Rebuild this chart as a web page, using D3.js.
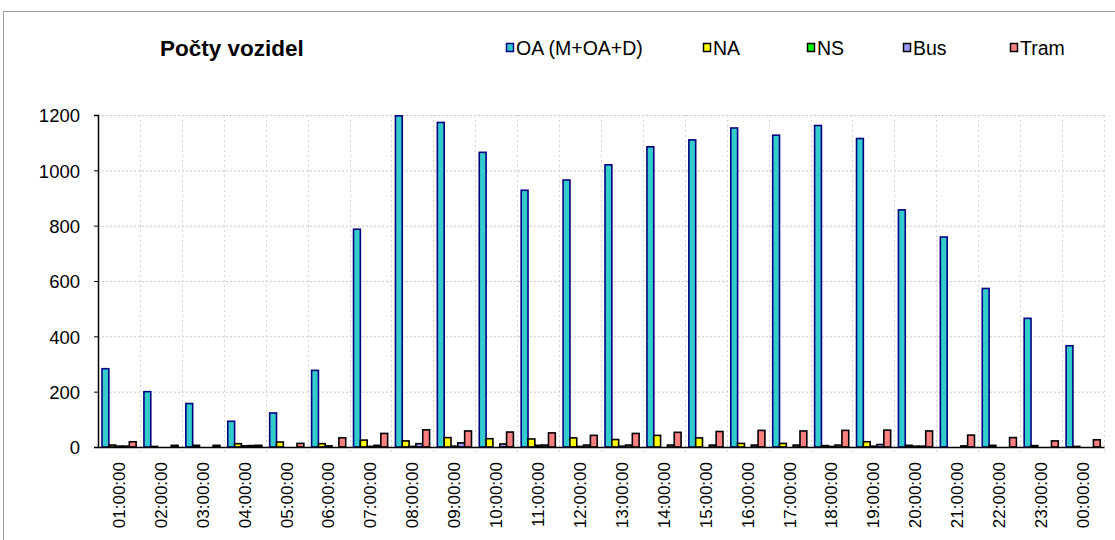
<!DOCTYPE html>
<html lang="cs">
<head>
<meta charset="UTF-8">
<script src="https://d3js.org/d3.v7.min.js"></script>
<style>
  body { margin: 0; background: #fff; }
  text { font-family: Arial, "Liberation Sans", sans-serif; fill: #000; }
</style>
</head>
<body>
<script>
// data
const hours = ["01:00:00","02:00:00","03:00:00","04:00:00","05:00:00","06:00:00","07:00:00","08:00:00",
  "09:00:00","10:00:00","11:00:00","12:00:00","13:00:00","14:00:00","15:00:00","16:00:00",
  "17:00:00","18:00:00","19:00:00","20:00:00","21:00:00","22:00:00","23:00:00","00:00:00"];
const oa   = [283, 200, 157, 93, 123, 277, 787, 1197, 1173, 1065, 928, 965, 1020, 1085, 1110, 1153, 1127, 1162, 1115, 857, 759, 573, 465, 366];
const na   = [7, 2, 6, 12, 18, 12, 25, 22, 34, 30, 29, 33, 27, 42, 33, 13, 13, 5, 19, 6, 0, 6, 5, 2];
const ns   = [3, 0, 0, 4, 0, 4, 2, 2, 3, 0, 6, 2, 3, 0, 0, 0, 0, 2, 3, 3, 0, 0, 0, 0];
const bus  = [3, 0, 0, 5, 0, 0, 6, 12, 15, 11, 7, 7, 7, 7, 7, 7, 7, 7, 9, 3, 4, 0, 0, 0];
const tram = [19, 6, 6, 6, 13, 33, 49, 62, 58, 54, 51, 42, 49, 53, 56, 60, 58, 60, 61, 58, 43, 34, 22, 26];
const yTicks = [0, 200, 400, 600, 800, 1000, 1200];

const series = [
  {name: "OA (M+OA+D)", values: oa, fill: "#33CCCC", stroke: "#000080"},
  {name: "NA", values: na, fill: "#FFFF00", stroke: "#000"},
  {name: "NS", values: ns, fill: "#00FF00", stroke: "#000"},
  {name: "Bus", values: bus, fill: "#9999FF", stroke: "#000"},
  {name: "Tram", values: tram, fill: "#FF8080", stroke: "#000"}
];

const w = 1115, h = 540;
const plotL = 98, plotR = 1104, plotT = 115, plotB = 447;

const svg = d3.select("body").append("svg").attr("width", w).attr("height", h);

// chart frame
svg.append("rect").attr("x", 3.5).attr("y", 11.5).attr("width", 1130).attr("height", 540)
  .attr("fill", "none").attr("stroke", "#a0a0a0");

const x0 = d3.scaleBand().domain(hours).range([plotL, plotR]);
const bw = x0.bandwidth();
const x1 = d3.scaleBand().domain(series.map(s => s.name)).range([bw * 0.096, bw * 0.91]);
const y = d3.scaleLinear().domain([0, 1200]).range([plotB, plotT]);

// gridlines
svg.append("g").selectAll("line").data(yTicks.slice(1)).join("line")
  .attr("x1", plotL).attr("x2", plotR).attr("y1", d => y(d) + 0.5).attr("y2", d => y(d) + 0.5)
  .attr("stroke", "#c8c8c8").attr("stroke-dasharray", "2,2");
svg.append("g").selectAll("line").data(hours).join("line")
  .attr("x1", d => Math.round(x0(d) + bw) + 0.5)
  .attr("x2", d => Math.round(x0(d) + bw) + 0.5)
  .attr("y1", plotT).attr("y2", plotB + 5)
  .attr("stroke", "#d4d4d4").attr("stroke-dasharray", "2,3");

// bars
const groups = svg.append("g").selectAll("g").data(hours).join("g")
  .attr("transform", d => `translate(${x0(d)},0)`);
groups.selectAll("rect")
  .data((d, i) => series.map(s => ({s, v: s.values[i]})))
  .join("rect")
  .attr("x", d => x1(d.s.name))
  .attr("y", d => y(d.v))
  .attr("width", x1.bandwidth())
  .attr("height", d => y(0) - y(d.v))
  .attr("fill", d => d.s.fill)
  .attr("stroke", d => d.s.stroke)
  .attr("stroke-width", 1.6);

// y axis
const yAxis = d3.axisLeft(y).tickValues(yTicks).tickFormat(d3.format("d")).tickSize(4).tickPadding(14);
const gy = svg.append("g").attr("transform", `translate(${plotL},0)`).call(yAxis);
gy.select(".domain").attr("stroke", "#000").attr("stroke-width", 1.5);
gy.selectAll(".tick line").attr("stroke", "#000");
gy.selectAll(".tick text").attr("font-size", "18.5px").attr("dy", "0.36em");

// x axis
const gx = svg.append("g").attr("transform", `translate(0,${plotB})`)
  .call(d3.axisBottom(x0).tickSize(0).tickSizeOuter(0));
gx.select(".domain").attr("stroke", "#000").attr("stroke-width", 1.5);
gx.selectAll(".tick text")
  .attr("font-size", "17px")
  .attr("text-anchor", "end")
  .attr("transform", "translate(0,15) rotate(-90)")
  .attr("x", 0).attr("y", 0).attr("dy", "0.35em");

// title
svg.append("text").attr("x", 160).attr("y", 56)
  .attr("font-size", "22.5px").attr("font-weight", "bold").text("Počty vozidel");

// legend
const legX = [506, 703, 807, 903, 1010];
const leg = svg.append("g").selectAll("g").data(series).join("g")
  .attr("transform", (d, i) => `translate(${legX[i]},48)`);
leg.append("rect").attr("x", 0.5).attr("y", -4.5).attr("width", 7).attr("height", 8)
  .attr("fill", d => d.fill).attr("stroke", d => d.stroke).attr("stroke-width", 1.5);
leg.append("text").attr("x", 10).attr("y", 0).attr("dy", "0.35em")
  .attr("font-size", "19.5px").text(d => d.name);
</script>
</body>
</html>
